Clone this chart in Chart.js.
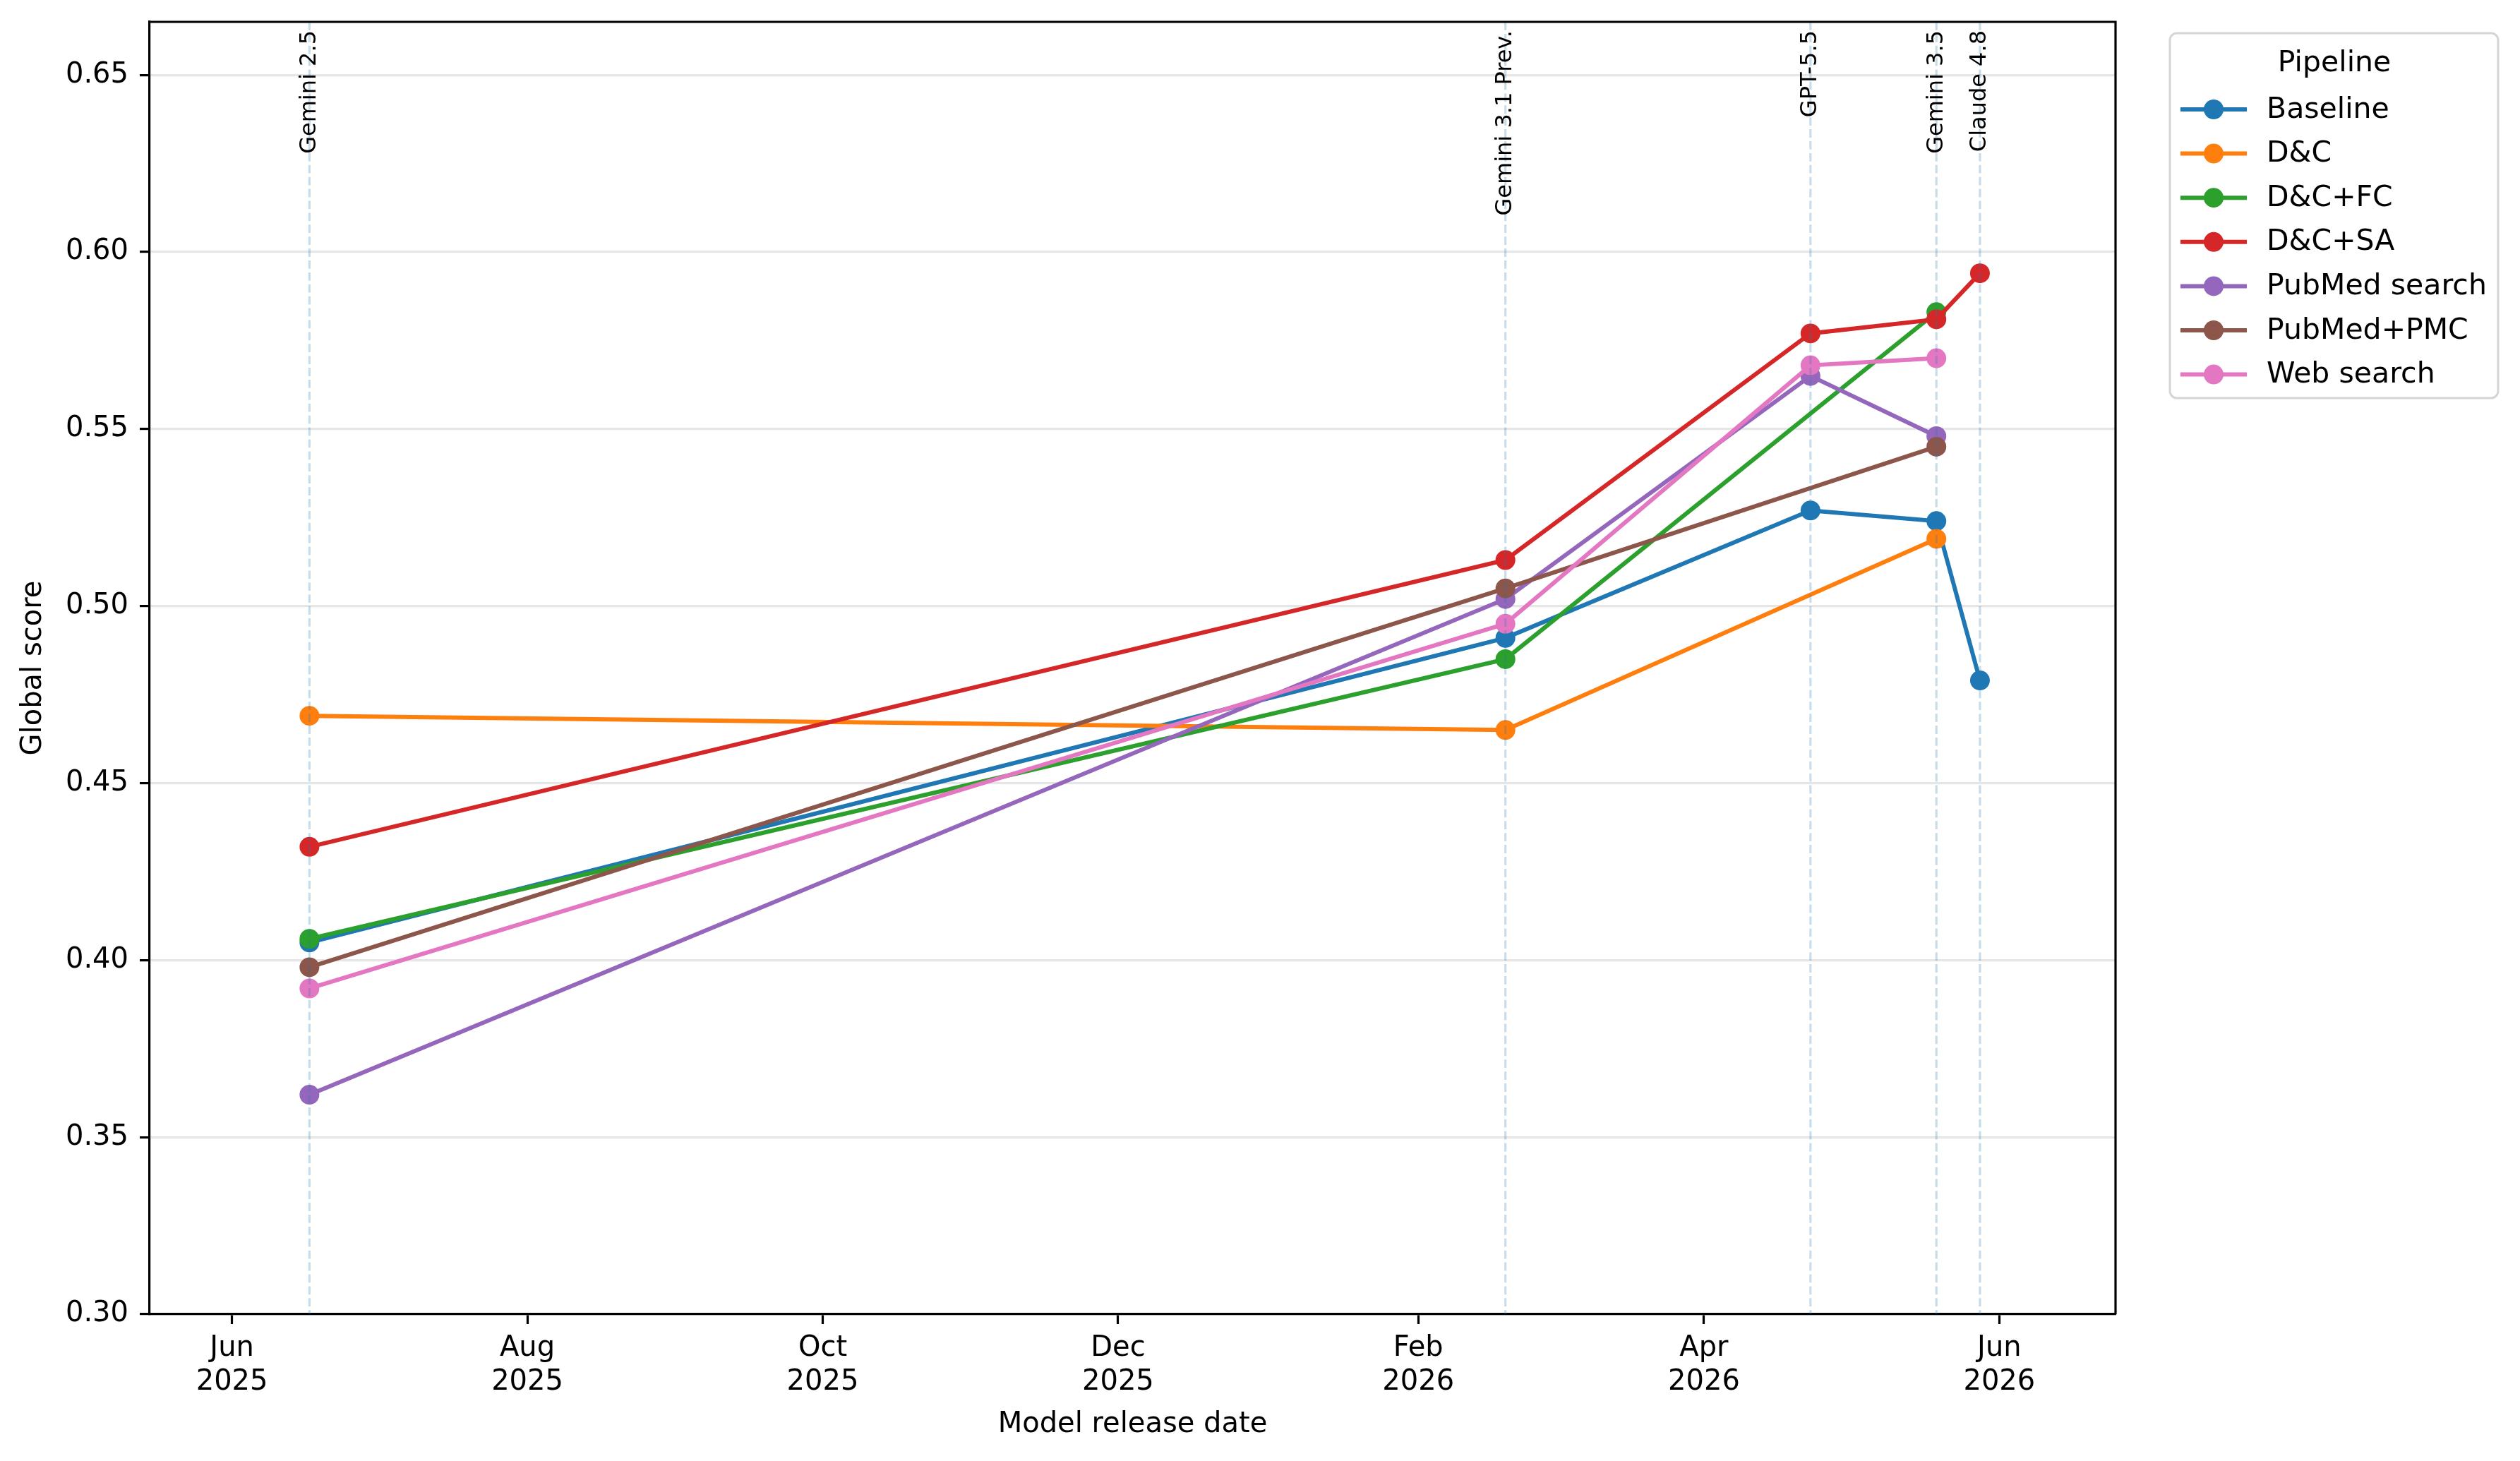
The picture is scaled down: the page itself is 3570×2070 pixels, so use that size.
<!DOCTYPE html>
<html>
<head>
<meta charset="utf-8">
<style>
  html, body { margin: 0; padding: 0; background: #fff; }
  canvas { display: block; }
</style>
</head>
<body>
<canvas id="chart" width="3570" height="2070"></canvas>
<script src="https://cdn.jsdelivr.net/npm/chart.js@4.4.1/dist/chart.umd.min.js"></script>
<script>
// model releases (vertical markers) and the score of every pipeline per model
var models = ['Gemini 2.5', 'Gemini 3.1 Prev.', 'GPT-5.5', 'Gemini 3.5', 'Claude 4.8'];
var releaseDates = ['2025-06-17', '2026-02-19', '2026-04-23', '2026-05-19', '2026-05-28'];

var pipelines = ['Baseline', 'D&C', 'D&C+FC', 'D&C+SA', 'PubMed search', 'PubMed+PMC', 'Web search'];
var baseline     = [0.405, 0.491, 0.527, 0.524, 0.479];
var dc           = [0.469, 0.465, null,  0.519, null];
var dcFc         = [0.406, 0.485, null,  0.583, null];
var dcSa         = [0.432, 0.513, 0.577, 0.581, 0.594];
var pubmedSearch = [0.362, 0.502, 0.565, 0.548, null];
var pubmedPmc    = [0.398, 0.505, null,  0.545, null];
var webSearch    = [0.392, 0.495, 0.568, 0.570, null];

var xTickDates = ['2025-06-01', '2025-08-01', '2025-10-01', '2025-12-01', '2026-02-01', '2026-04-01', '2026-06-01'];
var yTicks = [0.30, 0.35, 0.40, 0.45, 0.50, 0.55, 0.60, 0.65];
var xMin = '2025-05-15', xMax = '2026-06-25';
var yMin = 0.30, yMax = 0.665;

var colors = ['#1f77b4', '#ff7f0e', '#2ca02c', '#d62728', '#9467bd', '#8c564b', '#e377c2'];
var seriesValues = [baseline, dc, dcFc, dcSa, pubmedSearch, pubmedPmc, webSearch];
var monthNames = ['Jan','Feb','Mar','Apr','May','Jun','Jul','Aug','Sep','Oct','Nov','Dec'];
var FONT = 'DejaVu Sans';

function ts(d) { return new Date(d).getTime(); }

var datasets = pipelines.map(function(name, i) {
  return {
    label: name,
    data: seriesValues[i].map(function(v, j) { return { x: ts(releaseDates[j]), y: v }; }),
    borderColor: colors[i],
    backgroundColor: colors[i],
    pointBackgroundColor: colors[i],
    pointBorderColor: colors[i],
    borderWidth: 6,
    pointRadius: 12,
    pointBorderWidth: 4,
    spanGaps: true,
    tension: 0,
    order: pipelines.length - i
  };
});

var overlay = {
  id: 'overlay',
  afterDatasetsDraw: function(chart) {
    var ctx = chart.ctx, area = chart.chartArea, xs = chart.scales.x;
    ctx.save();
    releaseDates.forEach(function(d, i) {
      var x = xs.getPixelForValue(ts(d));
      ctx.strokeStyle = 'rgba(31,119,180,0.25)';
      ctx.lineWidth = 3.2;
      ctx.setLineDash([11.8, 5.1]);
      ctx.beginPath();
      ctx.moveTo(x, area.top);
      ctx.lineTo(x, area.bottom);
      ctx.stroke();
      ctx.setLineDash([]);
      ctx.save();
      ctx.translate(x, area.top + 12);
      ctx.rotate(-Math.PI / 2);
      ctx.fillStyle = '#000';
      ctx.font = '32px "' + FONT + '"';
      ctx.textAlign = 'right';
      ctx.textBaseline = 'middle';
      ctx.fillText(models[i], 0, 0);
      ctx.restore();
    });
    ctx.restore();
  },
  afterDraw: function(chart) {
    var ctx = chart.ctx, a = chart.chartArea;
    ctx.save();
    // top and right spines
    ctx.strokeStyle = '#000';
    ctx.lineWidth = 3.2;
    ctx.beginPath();
    ctx.moveTo(a.left, a.top);
    ctx.lineTo(a.right, a.top);
    ctx.lineTo(a.right, a.bottom);
    ctx.stroke();

    // legend box
    var lx = 3074, ly = 47, lw = 465, lh = 517, r = 10;
    ctx.beginPath();
    ctx.roundRect(lx, ly, lw, lh, r);
    ctx.fillStyle = 'rgba(255,255,255,0.8)';
    ctx.fill();
    ctx.strokeStyle = '#d5d5d5';
    ctx.lineWidth = 3;
    ctx.stroke();

    ctx.fillStyle = '#000';
    ctx.font = '41px "' + FONT + '"';
    ctx.textAlign = 'center';
    ctx.textBaseline = 'alphabetic';
    ctx.fillText('Pipeline', 3307, 101);

    chart.data.datasets.forEach(function(ds, i) {
      var y = 155 + i * 62.6;
      ctx.strokeStyle = ds.borderColor;
      ctx.lineWidth = 6;
      ctx.beginPath();
      ctx.moveTo(3089, y);
      ctx.lineTo(3183, y);
      ctx.stroke();
      ctx.beginPath();
      ctx.arc(3136, y, 14, 0, Math.PI * 2);
      ctx.fillStyle = ds.borderColor;
      ctx.fill();
      ctx.fillStyle = '#000';
      ctx.textAlign = 'left';
      ctx.textBaseline = 'middle';
      ctx.fillText(ds.label, 3211, y + 1);
    });
    ctx.restore();
  }
};

new Chart(document.getElementById('chart'), {
  type: 'line',
  data: { datasets: datasets },
  options: {
    responsive: false,
    animation: false,
    devicePixelRatio: 1,
    layout: { padding: { left: 0, top: 31, right: 573, bottom: 0 } },
    plugins: { legend: { display: false }, tooltip: { enabled: false } },
    scales: {
      x: {
        type: 'linear',
        min: ts(xMin),
        max: ts(xMax),
        afterBuildTicks: function(scale) {
          scale.ticks = xTickDates.map(function(d) { return { value: ts(d) }; });
        },
        afterFit: function(scale) {
          scale.height = 208;
          scale.paddingLeft = 0;
          scale.paddingRight = 0;
        },
        ticks: {
          color: '#000',
          font: { family: FONT, size: 40, lineHeight: 1.2 },
          padding: 11,
          maxRotation: 0,
          autoSkip: false,
          callback: function(v) {
            var d = new Date(v);
            return [monthNames[d.getUTCMonth()], String(d.getUTCFullYear())];
          }
        },
        grid: { drawOnChartArea: false, drawTicks: true, tickLength: 14, tickWidth: 3.2, tickColor: '#000' },
        border: { display: true, color: '#000', width: 3.2 },
        title: {
          display: true,
          text: 'Model release date',
          color: '#000',
          font: { family: FONT, size: 40, lineHeight: 1.2 },
          padding: { top: 0, bottom: 27 }
        }
      },
      y: {
        type: 'linear',
        min: yMin,
        max: yMax,
        afterBuildTicks: function(scale) {
          scale.ticks = yTicks.map(function(v) { return { value: v }; });
        },
        afterFit: function(scale) {
          scale.width = 212;
          scale.paddingTop = 0;
          scale.paddingBottom = 0;
        },
        ticks: {
          color: '#000',
          font: { family: FONT, size: 40 },
          padding: 16,
          callback: function(v) { return v.toFixed(2); }
        },
        grid: { color: '#e6e6e6', lineWidth: 3.2, drawTicks: true, tickLength: 14, tickWidth: 3.2, tickColor: '#000' },
        border: { display: true, color: '#000', width: 3.2 },
        title: {
          display: true,
          text: 'Global score',
          color: '#000',
          font: { family: FONT, size: 40, lineHeight: 1.2 },
          padding: { top: 24, bottom: 0 }
        }
      }
    }
  },
  plugins: [overlay]
});
</script>
</body>
</html>
